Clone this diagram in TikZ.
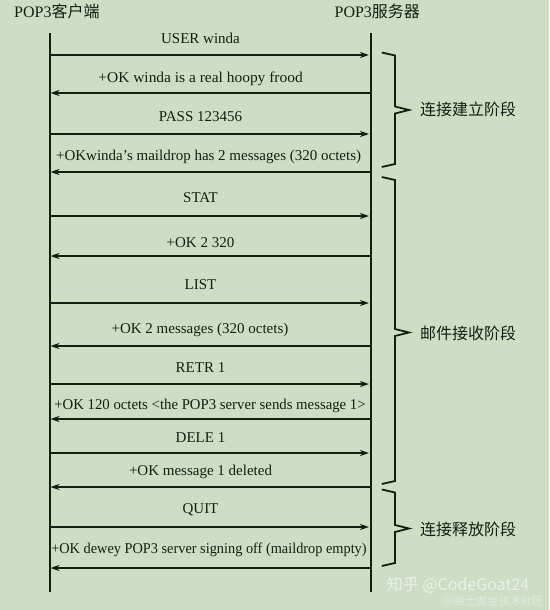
\documentclass[tikz,border=0pt]{standalone}
\usepackage{fontspec}
\usepackage{graphicx}
\setmainfont{Liberation Serif}
\newfontfamily\cjk{Noto Sans CJK SC}
\usetikzlibrary{arrows.meta}
\definecolor{bg}{RGB}{205,222,196}
\definecolor{ink}{RGB}{18,32,18}
\definecolor{wmlight}{RGB}{236,240,233}
\definecolor{wmgray}{RGB}{226,232,223}
\begin{document}
\begin{tikzpicture}[x=1pt,y=-1pt,
  life/.style={ink,line width=1.8pt},
  msg/.style={ink,line width=1.8pt,-{Stealth[length=9pt,width=6pt]}},
  lbl/.style={ink,anchor=base,inner sep=0pt,font=\fontsize{15}{18}\selectfont},
  ttl/.style={ink,anchor=base west,inner sep=0pt,font=\fontsize{16}{19}\selectfont},
  phase/.style={ink,anchor=west,inner sep=0pt,font=\cjk\fontsize{16}{19}\selectfont},
  brc/.style={ink,line width=1.8pt,line join=miter},
  wmark/.style={anchor=west,inner sep=0pt}]
\useasboundingbox (0,0) rectangle (549,610);
\fill[bg] (0,0) rectangle (549,610);

% titles
\node[ttl] (tc) at (14,17.5) {POP3{\cjk 客户端}};
\node[ttl] (ts) at (334.4,17.5) {POP3{\cjk 服务器}};

% lifelines
\coordinate (ctop) at (50,33);
\coordinate (cbot) at (50,592);
\coordinate (stop) at (371,33);
\coordinate (sbot) at (371,592);
\draw[life] (ctop) -- (cbot);
\draw[life] (stop) -- (sbot);

% client -> server
\foreach \n/\ay/\lx/\ly/\sx/\txt in {
  1/55/200.5/44/1/USER winda,
  3/134/200.5/121.3/1/PASS 123456,
  5/216/200.5/202.6/1/STAT,
  7/303/200.5/289.3/1/LIST,
  9/384/200.5/372/1/RETR 1,
  11/453/200.5/442.6/1/DELE 1,
  13/527/200.5/513.6/1/QUIT}{
  \coordinate (c\n) at (50,\ay);
  \coordinate (s\n) at (369,\ay);
  \node[lbl] (m\n) at (\lx,\ly) {\scalebox{\sx}[1]{\txt}};
  \draw[msg] (c\n) -- (s\n);
}

% server -> client
\foreach \n/\ay/\lx/\ly/\sx/\txt in {
  2/93/200.6/82.5/1.03/+OK winda is a real hoopy frood,
  4/172/208.6/160.3/1/+OKwinda's maildrop has 2 messages (320 octets),
  6/256/200.5/247/1/+OK 2 320,
  8/346/200/333.6/1/+OK 2 messages (320 octets),
  10/419/210/409.6/0.985/+OK 120 octets <the POP3 server sends message 1>,
  12/487/200.5/475.3/1/+OK message 1 deleted,
  14/568/209/553/0.955/+OK dewey POP3 server signing off (maildrop empty)}{
  \coordinate (s\n) at (371,\ay);
  \coordinate (c\n) at (50.5,\ay);
  \node[lbl] (m\n) at (\lx,\ly) {\scalebox{\sx}[1]{\txt}};
  \draw[msg] (s\n) -- (c\n);
}

% braces
\foreach \t/\m/\b in {52.5/110/167, 177/332.5/484, 489.5/528.5/566}{
  \draw[brc] (381.7,\t) -- (395,\t+3) -- (395,\m-3.5) -- (409,\m)
     -- (395,\m+3.5) -- (395,\b-3) -- (381.7,\b);
}

% phase labels
\node[phase] (p1) at (420,109.3) {连接建立阶段};
\node[phase] (p2) at (420,333.3) {邮件接收阶段};
\node[phase] (p3) at (420,529.3) {连接释放阶段};

% watermark
\node[wmark,text=wmlight,font=\cjk\fontsize{16}{19}\selectfont] (wm1) at (386.7,585) {知乎 @CodeGoat24};
\node[wmark,text=wmgray,font=\cjk\fontsize{11.2}{13}\selectfont] (wm2) at (443,601.7) {@稀土掘金技术社区};
\end{tikzpicture}
\end{document}
